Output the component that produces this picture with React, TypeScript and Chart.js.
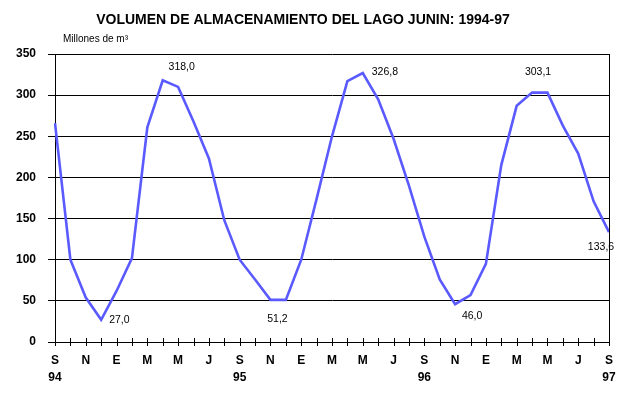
import React, { useEffect, useRef } from "react";
import { Chart, registerables } from "chart.js";

Chart.register(...registerables);

const months = [
  "S", "O", "N", "D", "E", "F", "M", "A", "M", "J", "J", "A",
  "S", "O", "N", "D", "E", "F", "M", "A", "M", "J", "J", "A",
  "S", "O", "N", "D", "E", "F", "M", "A", "M", "J", "J", "A",
  "S",
];
const years = ["94", "95", "96", "97"];
const volume = [
  266, 100, 54, 27.0, 62, 102, 261, 318.0, 310, 268, 223, 148,
  100, 76, 51.2, 51.2, 100, 174, 250, 317, 326.8, 295, 247, 190,
  128, 76, 46.0, 57, 95, 215, 287, 303.1, 303.1, 263, 229, 171,
  133.6,
];
// indices of the annotated values and their label text
const labelIndex = [3, 7, 14, 20, 26, 31, 36];
const labelText = ["27,0", "318,0", "51,2", "326,8", "46,0", "303,1", "133,6"];
const yTicks = [0, 50, 100, 150, 200, 250, 300, 350];

const TITLE = "VOLUMEN DE ALMACENAMIENTO DEL LAGO JUNIN: 1994-97";
const UNIT = "Millones de m³";
const FONT = "'Liberation Sans', Arial, Helvetica, sans-serif";

// label placement (styling): [dx, dy, align]
const labelPlace: Record<number, [number, number, CanvasTextAlign]> = {
  3: [8, 0, "left"],
  7: [19, -13, "center"],
  14: [7, 19, "center"],
  20: [9, -1, "left"],
  26: [17, 12, "center"],
  31: [6, -20, "center"],
  36: [-8, 15, "center"],
};

const decorPlugin = {
  id: "decor",
  afterDraw(chart: any) {
    const { ctx, chartArea } = chart;
    const xs = chart.scales.x;
    ctx.save();
    // right border
    ctx.strokeStyle = "#000";
    ctx.lineWidth = 1;
    ctx.beginPath();
    ctx.moveTo(Math.round(chartArea.right) + 0.5, chartArea.top);
    ctx.lineTo(Math.round(chartArea.right) + 0.5, chartArea.bottom);
    ctx.stroke();
    // crossing tick marks on x axis
    ctx.beginPath();
    for (let i = 0; i < months.length; i++) {
      const x = Math.round(xs.getPixelForValue(i)) + 0.5;
      ctx.moveTo(x, chartArea.bottom - 4);
      ctx.lineTo(x, chartArea.bottom + 4);
    }
    ctx.stroke();
    // title
    ctx.fillStyle = "#000";
    ctx.font = `bold 14px ${FONT}`;
    ctx.textAlign = "center";
    ctx.textBaseline = "middle";
    ctx.fillText(TITLE, 303, 20);
    // unit
    ctx.font = `10px ${FONT}`;
    ctx.textAlign = "left";
    ctx.fillText(UNIT, 63, 39);
    // data labels
    const meta = chart.getDatasetMeta(0);
    ctx.font = `10.5px ${FONT}`;
    labelIndex.forEach((idx, k) => {
      const pt = meta.data[idx];
      const [dx, dy, align] = labelPlace[idx];
      ctx.textAlign = align;
      ctx.fillText(labelText[k], pt.x + dx, pt.y + dy);
    });
    ctx.restore();
  },
};

export default function App() {
  const ref = useRef<HTMLCanvasElement | null>(null);
  useEffect(() => {
    document.body.style.margin = "0";
    const chart = new Chart(ref.current as HTMLCanvasElement, {
      type: "line",
      data: {
        labels: months,
        datasets: [
          {
            data: volume,
            borderColor: "#5a5aff",
            borderWidth: 2.6,
            pointRadius: 0,
            tension: 0,
            fill: false,
          },
        ],
      },
      options: {
        responsive: false,
        animation: false,
        devicePixelRatio: 1,
        layout: { padding: { top: 54, right: 31, left: 0, bottom: 0 } },
        plugins: { legend: { display: false }, title: { display: false }, tooltip: { enabled: false } },
        scales: {
          x: {
            type: "category",
            offset: false,
            grid: { drawOnChartArea: false, drawTicks: false },
            border: { display: true, color: "#000", width: 1 },
            ticks: {
              autoSkip: false,
              maxRotation: 0,
              minRotation: 0,
              padding: 10,
              color: "#000",
              font: { family: FONT, size: 12, weight: "bold", lineHeight: 1.4 },
              callback: (_v: any, i: number) =>
                i % 2 !== 0 ? "" : i % 12 === 0 ? [months[i], years[i / 12]] : months[i],
            },
            afterFit: (s: any) => {
              s.height = 52;
            },
          },
          y: {
            min: 0,
            max: 350,
            afterBuildTicks: (s: any) => {
              s.ticks = yTicks.map((v) => ({ value: v }));
            },
            grid: { color: "#000", lineWidth: 1, tickLength: 7, drawTicks: true },
            border: { display: true, color: "#000", width: 1 },
            ticks: {
              padding: 12,
              color: "#000",
              font: { family: FONT, size: 12, weight: "bold" },
            },
            afterFit: (s: any) => {
              s.width = 55;
            },
          },
        },
      },
      plugins: [decorPlugin],
    } as any);
    return () => chart.destroy();
  }, []);
  return (
    <div style={{ position: "absolute", left: 0, top: 0, width: 640, height: 394, background: "#fff" }}>
      <canvas ref={ref} width={640} height={394} />
    </div>
  );
}
